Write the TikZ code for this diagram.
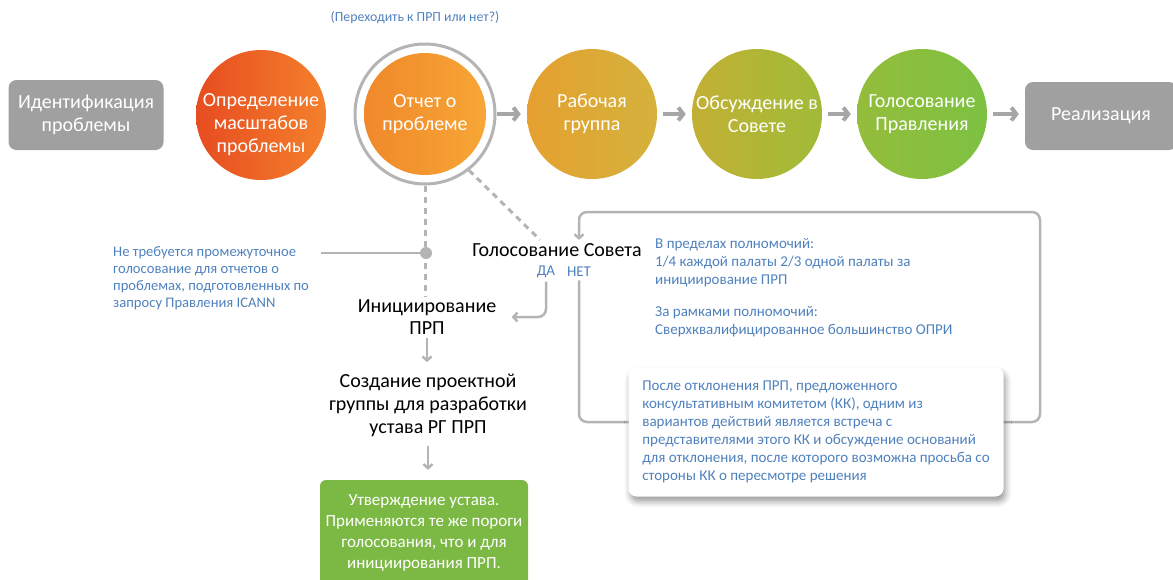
\documentclass[tikz,border=0pt]{standalone}
\usepackage{fontspec}
\setmainfont{Carlito}
\usetikzlibrary{arrows.meta,shadows.blur,positioning}
\tikzstyle{endbox} = [rectangle, rounded corners=8pt, fill=boxgrey, text=white, minimum width=155pt, minimum height=70pt, align=center, font=\fontsize{20}{23}\selectfont]
\tikzstyle{phase} = [circle, minimum size=130pt, inner sep=0pt, text=white, align=center, font=\fontsize{20}{23}\selectfont]
\tikzstyle{phasetext} = [text=white, align=center, font=\fontsize{20}{23}\selectfont]
\tikzstyle{ring} = [circle, minimum size=140pt, inner sep=0pt, draw=ringgrey, line width=3pt]
\tikzstyle{flow} = [line width=4pt, draw=arrowgrey, -{Straight Barb[length=5pt,width=13pt]}, shorten <=6pt, shorten >=6pt]
\tikzstyle{plain} = [align=center, font=\fontsize{20}{22.5}\selectfont]
\tikzstyle{note} = [align=left, text=noteblue, inner xsep=0pt, font=\fontsize{15}{18}\selectfont]
\tikzstyle{feed} = [line width=2.5pt, draw=linegrey, -{Straight Barb[length=4pt,width=9pt]}, rounded corners=8pt]
\tikzstyle{dashline} = [line width=3pt, draw=linegrey, dash pattern=on 6pt off 5pt]
\tikzstyle{callout} = [rectangle, rounded corners=8pt, fill=white, minimum width=375pt, minimum height=129pt, align=left, text=noteblue, font=\fontsize{15}{18}\selectfont, blur shadow={shadow xshift=2pt, shadow yshift=-5pt, shadow blur radius=6pt}]
\tikzstyle{greenbox} = [rectangle, rounded corners=6pt, fill=approvegreen, text=white, minimum width=208pt, minimum height=106pt, align=center, font=\fontsize{17}{21}\selectfont]
\definecolor{boxgrey}{RGB}{160,160,160}
\definecolor{ringgrey}{RGB}{180,180,180}
\definecolor{arrowgrey}{RGB}{166,166,166}
\definecolor{linegrey}{RGB}{180,180,180}
\definecolor{noteblue}{RGB}{79,129,189}
\definecolor{scopel}{RGB}{231,76,32}
\definecolor{scoper}{RGB}{244,128,44}
\definecolor{reportl}{RGB}{240,136,42}
\definecolor{reportr}{RGB}{247,166,54}
\definecolor{groupl}{RGB}{229,160,48}
\definecolor{groupr}{RGB}{212,178,60}
\definecolor{councill}{RGB}{194,176,52}
\definecolor{councilr}{RGB}{160,187,56}
\definecolor{boardl}{RGB}{148,189,59}
\definecolor{boardr}{RGB}{125,193,66}
\definecolor{approvegreen}{RGB}{124,185,68}

\begin{document}
\begin{tikzpicture}[x=1pt,y=-1pt]
\useasboundingbox (0,0) rectangle (1173,579);
\node (ident) [endbox] at (86,115) {Идентификация\\проблемы};
\node (scope) [phase, left color=scopel, right color=scoper] at (261,115) {};
\node (scopetext) [phasetext] at (261,125) {Определение\\масштабов\\проблемы};
\node (report) [phase, minimum size=122pt, left color=reportl, right color=reportr] at (425,114) {Отчет о\\проблеме};
\node (reportring) [ring] at (report) {};
\node (workgroup) [phase, left color=groupl, right color=groupr] at (592,114) {Рабочая\\группа};
\node (council) [phase, left color=councill, right color=councilr] at (757,114) {Обсуждение в\\Совете};
\node (boardvote) [phase, left color=boardl, right color=boardr] at (922,114) {Голосование\\Правления};
\node (impl) [endbox, minimum width=152pt, minimum height=68pt] at (1101,116) {Реализация};
\node (question) [note, font=\fontsize{13.8}{16}\selectfont] at (415,18) {(Переходить к ПРП или нет?)};
\draw [flow, shorten <=11pt] (report) -- (workgroup);
\draw [flow] (workgroup) -- (council);
\draw [flow] (council) -- (boardvote);
\draw [flow] (boardvote) -- (boardvote -| impl.west);

\node (vote) [plain] at (557,250) {Голосование Совета};
\node (yes) [note] at (546,272) {ДА};
\node (no) [note] at (579,272) {НЕТ};
\node (init) [plain] at (427,317) {Инициирование\\ПРП};
\node (charter) [plain, font=\fontsize{20}{23}\selectfont] at (428,405) {Создание проектной\\группы для разработки\\устава РГ ПРП};
\node (approve) [greenbox] at (424,533) {Утверждение устава.\\Применяются те же пороги\\голосования, что и для\\инициирования ПРП.};
\node (skipnote) [note, font=\fontsize{14.6}{17}\selectfont, anchor=west] at (113,278) {Не требуется промежуточное\\голосование для отчетов о\\проблемах, подготовленных по\\запросу Правления ICANN};
\node (thresholds) [note, anchor=west] at (655,288) {В пределах полномочий:\\1/4 каждой палаты 2/3 одной палаты за\\инициирование ПРП\\[14pt]За рамками полномочий:\\Сверхквалифицированное большинство ОПРИ};
\coordinate (loopbr) at (1040,422);
\coordinate (looptr) at (1040,212);

\draw [dashline] (reportring.south) -- (reportring.south |- init.north);
\draw [dashline] (reportring.-52) -- ([xshift=-17pt]vote.north);
\draw [line width=2pt, draw=linegrey] (426,253) -- ([xshift=12pt]113,253 -| skipnote.east);
\node (junction) [circle, fill=linegrey, minimum size=12pt, inner sep=0pt] at (426,253) {};
\draw [feed, shorten >=12pt] (yes.south) |- (init.east);
\draw [feed] (no.south) |- (loopbr) -- (looptr) -| (vote.north -| no.south);
\draw [feed, shorten >=8pt] (init.south) -- (init.south |- charter.north);
\draw [feed, shorten <=6pt, shorten >=10pt] (charter.south) -- (charter.south |- approve.north);
\node (rejectnote) [callout] at (816,432) {После отклонения ПРП, предложенного\\консультативным комитетом (КК), одним из\\вариантов действий является встреча с\\представителями этого КК и обсуждение оснований\\для отклонения, после которого возможна просьба со\\стороны КК о пересмотре решения};
\end{tikzpicture}
\end{document}
